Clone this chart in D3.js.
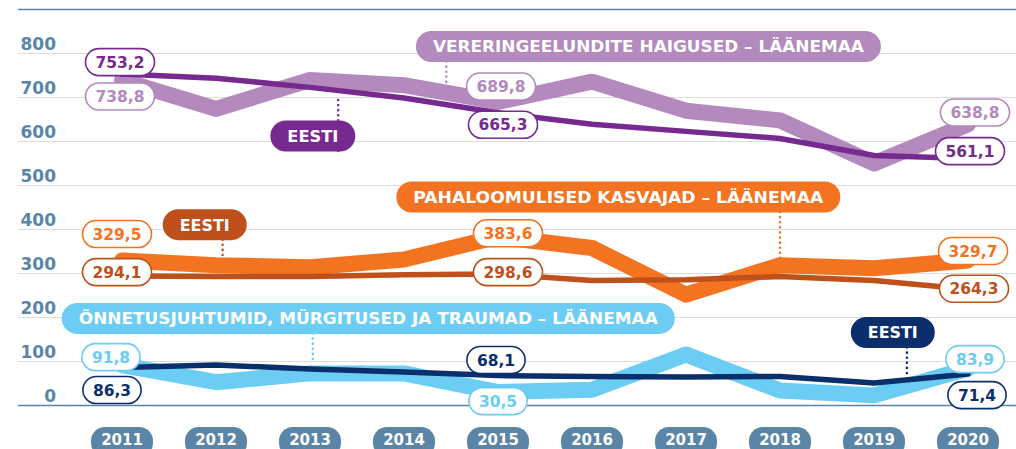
<!DOCTYPE html>
<html>
<head>
<meta charset="utf-8">
<script src="https://cdn.jsdelivr.net/npm/d3@7"></script>
<style>
  html, body { margin: 0; padding: 0; background: #fff; }
  svg { display: block; }
  text { font-family: "DejaVu Sans", sans-serif; font-weight: bold; }
</style>
</head>
<body>
<svg id="chart" width="1016" height="449"></svg>
<script>
const years = [2011, 2012, 2013, 2014, 2015, 2016, 2017, 2018, 2019, 2020];
const yTicks = [0, 100, 200, 300, 400, 500, 600, 700, 800];

// vereringeelundite haigused
const vereLaane = [738.8, 674, 740, 728, 689.8, 736, 670, 648, 550, 638.8];
const vereEesti = [753.2, 744, 723, 699, 665.3, 639, 623, 607, 568, 561.1];
// pahaloomulised kasvajad
const pahaLaane = [329.5, 319, 314, 332, 383.6, 358, 252, 319, 312, 329.7];
const pahaEesti = [294.1, 293, 293, 297, 298.6, 284, 286, 293, 284, 264.3];
// õnnetusjuhtumid, mürgitused ja traumad
const onneLaane = [91.8, 53, 73, 73, 30.5, 36, 116, 34, 23, 83.9];
const onneEesti = [86.3, 92, 83, 76, 68.1, 66, 65, 66, 51, 71.4];

const purpleLight = "#b389be";
const purpleDark = "#762a8f";
const orange = "#f37321";
const orangeDark = "#c0501b";
const blue = "#6bcdf4";
const navy = "#0a2f6c";
const steel = "#5a85a6";

const svg = d3.select("#chart");

const x = d3.scaleLinear().domain([2011, 2020]).range([122, 968]);
const y = d3.scaleLinear().domain([0, 800]).range([405.5, 53.5]);

// grid
svg.append("line")
  .attr("x1", 18).attr("x2", 1016)
  .attr("y1", 9.5).attr("y2", 9.5)
  .attr("stroke", steel).attr("stroke-width", 1.5);

svg.append("g")
  .selectAll("line")
  .data(yTicks)
  .enter()
  .append("line")
  .attr("x1", 18).attr("x2", 1016)
  .attr("y1", d => y(d)).attr("y2", d => y(d))
  .attr("stroke", d => d === 0 ? steel : "#dcdcdc")
  .attr("stroke-width", d => d === 0 ? 1.5 : 1.2);

svg.append("g")
  .selectAll("text")
  .data(yTicks)
  .enter()
  .append("text")
  .attr("x", 56)
  .attr("y", d => y(d) - 3.5)
  .attr("text-anchor", "end")
  .attr("fill", steel)
  .attr("font-size", 17)
  .text(d => d);

// year pills
const yearG = svg.append("g")
  .selectAll("g")
  .data(years)
  .enter()
  .append("g")
  .attr("transform", d => `translate(${x(d)},427)`);

yearG.append("rect")
  .attr("x", -31).attr("y", 0)
  .attr("width", 62).attr("height", 30)
  .attr("rx", 14)
  .attr("fill", steel);

yearG.append("text")
  .attr("y", 18)
  .attr("text-anchor", "middle")
  .attr("fill", "#fff")
  .attr("font-size", 15)
  .text(d => d);

// lines
const series = [
  { values: vereLaane, colour: purpleLight, w: 16 },
  { values: pahaLaane, colour: orange, w: 16 },
  { values: onneLaane, colour: blue, w: 16 },
  { values: vereEesti, colour: purpleDark, w: 5.5 },
  { values: pahaEesti, colour: orangeDark, w: 5.5 },
  { values: onneEesti, colour: navy, w: 5.5 }
];

const line = d3.line()
  .x((d, i) => x(years[i]))
  .y(d => y(d));

// connectors of the tags
const tags = [
  { text: "VERERINGEELUNDITE HAIGUSED – LÄÄNEMAA", colour: purpleLight, cx: 2016.6, cy: 816, len: 431, lx: 2014.45, lv: 701 },
  { text: "EESTI", colour: purpleDark, cx: 2013.03, cy: 612.5, len: 51, lx: 2013.3, lv: 699 },
  { text: "PAHALOOMULISED KASVAJAD – LÄÄNEMAA", colour: orange, cx: 2016.28, cy: 474, len: 410, lx: 2018, lv: 335 },
  { text: "EESTI", colour: orangeDark, cx: 2011.88, cy: 411, len: 50, lx: 2012.07, lv: 292 },
  { text: "ÕNNETUSJUHTUMID, MÜRGITUSED JA TRAUMAD – LÄÄNEMAA", colour: blue, cx: 2013.62, cy: 198, len: 579, lx: 2013.03, lv: 97 },
  { text: "EESTI", colour: navy, cx: 2019.2, cy: 166, len: 50, lx: 2019.35, lv: 65 }
];

svg.append("g")
  .selectAll("line")
  .data(tags)
  .enter()
  .append("line")
  .attr("x1", d => x(d.lx)).attr("x2", d => x(d.lx))
  .attr("y1", d => y(d.cy) + 15).attr("y2", d => y(d.lv))
  .attr("stroke", d => d.colour)
  .attr("stroke-width", 2.5)
  .attr("stroke-linecap", "round")
  .attr("stroke-dasharray", "0.1 5");

svg.append("g")
  .selectAll("path")
  .data(series)
  .enter()
  .append("path")
  .attr("d", d => line(d.values))
  .attr("fill", "none")
  .attr("stroke", d => d.colour)
  .attr("stroke-width", d => d.w)
  .attr("stroke-linejoin", "round")
  .attr("stroke-linecap", "round");

// tags
const tagG = svg.append("g")
  .selectAll("g")
  .data(tags)
  .enter()
  .append("g")
  .attr("transform", d => `translate(${x(d.cx)},${y(d.cy)})`);

tagG.append("rect")
  .attr("x", d => -d.len / 2 - 17)
  .attr("y", -15.5)
  .attr("width", d => d.len + 34)
  .attr("height", 31)
  .attr("rx", 15.5)
  .attr("fill", d => d.colour);

tagG.append("text")
  .attr("text-anchor", "middle")
  .attr("dy", "0.36em")
  .attr("fill", "#fff")
  .attr("font-size", 16.5)
  .attr("textLength", d => d.len)
  .attr("lengthAdjust", "spacingAndGlyphs")
  .text(d => d.text);

// value labels
const valueLabels = [
  { s: vereEesti, i: 0, colour: purpleDark, dx: -2, dy: -12 },
  { s: vereLaane, i: 0, colour: purpleLight, dx: -2, dy: 16 },
  { s: vereLaane, i: 4, colour: purpleLight, dx: 3, dy: -15.5 },
  { s: vereEesti, i: 4, colour: purpleDark, dx: 5, dy: 12 },
  { s: vereLaane, i: 9, colour: purpleLight, dx: 7, dy: -12 },
  { s: vereEesti, i: 9, colour: purpleDark, dx: 2, dy: -7.5 },
  { s: pahaLaane, i: 0, colour: orange, dx: -5, dy: -26.5 },
  { s: pahaEesti, i: 0, colour: orangeDark, dx: -5, dy: -4 },
  { s: pahaLaane, i: 4, colour: orange, dx: 10, dy: -3.5 },
  { s: pahaEesti, i: 4, colour: orangeDark, dx: 10, dy: -2 },
  { s: pahaLaane, i: 9, colour: orange, dx: 5, dy: -9.5 },
  { s: pahaEesti, i: 9, colour: orangeDark, dx: 6, dy: -0.5 },
  { s: onneLaane, i: 0, colour: blue, dx: -11, dy: -8 },
  { s: onneEesti, i: 0, colour: navy, dx: -10, dy: 22.5 },
  { s: onneEesti, i: 4, colour: navy, dx: -2, dy: -15.5 },
  { s: onneLaane, i: 4, colour: blue, dx: 0, dy: 9 },
  { s: onneLaane, i: 9, colour: blue, dx: 7, dy: -9.5 },
  { s: onneEesti, i: 9, colour: navy, dx: 9, dy: 21 }
];

const fmt = v => v.toFixed(1).replace(".", ",");

const labelG = svg.append("g")
  .selectAll("g")
  .data(valueLabels)
  .enter()
  .append("g")
  .attr("transform", d => `translate(${x(years[d.i]) + d.dx},${y(d.s[d.i]) + d.dy})`);

labelG.append("rect")
  .attr("y", -13.5)
  .attr("height", 27)
  .attr("rx", 13.5)
  .attr("fill", "#fff")
  .attr("stroke", d => d.colour)
  .attr("stroke-width", 1.6);

labelG.append("text")
  .attr("text-anchor", "middle")
  .attr("dy", "0.36em")
  .attr("fill", d => d.colour)
  .attr("font-size", 15.5)
  .text(d => fmt(d.s[d.i]));

labelG.each(function () {
  const g = d3.select(this);
  const w = g.select("text").node().getComputedTextLength() + 20;
  g.select("rect").attr("x", -w / 2).attr("width", w);
});
</script>
</body>
</html>
